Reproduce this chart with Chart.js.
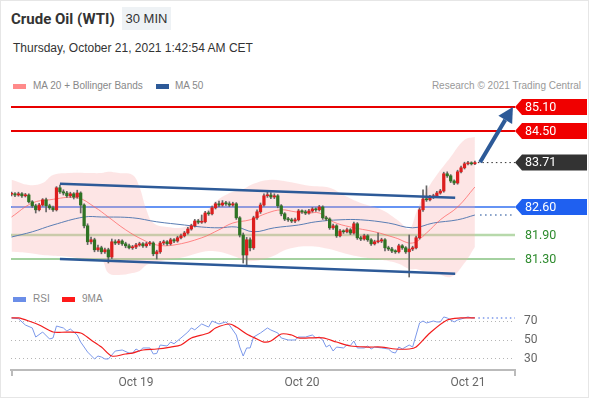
<!DOCTYPE html>
<html>
<head>
<meta charset="utf-8">
<script src="https://cdn.jsdelivr.net/npm/chart.js@4.4.0/dist/chart.umd.min.js"></script>
<style>
  body { margin: 0; background: #fff; font-family: "Liberation Sans", Arial, sans-serif; }
  #card { position: absolute; left: 0; top: 0; width: 587px; height: 396px; border: 1px solid #e6e6e6; }
  .t { position: absolute; white-space: nowrap; }
  .sw { position: absolute; width: 13px; height: 5px; }
  .lg { font-size: 10px; color: #888; }
  canvas { position: absolute; left: 0; }
</style>
</head>
<body>
<div id="card"></div>
<div class="t" style="left:11px;top:10px;font-family:Roboto,sans-serif;font-size:15px;font-weight:bold;color:#333">Crude Oil (WTI)</div>
<div class="t" style="left:122px;top:7px;width:49px;height:23px;line-height:23px;text-align:center;background:#eef2f5;font-size:13px;color:#333">30 MIN</div>
<div class="t" style="left:13px;top:41px;font-size:12px;color:#333">Thursday, October 21, 2021 1:42:54 AM CET</div>

<div class="sw" style="left:13px;top:84px;background:#ff8a8a"></div>
<div class="t lg" style="left:33px;top:80px">MA 20 + Bollinger Bands</div>
<div class="sw" style="left:156px;top:84px;background:#2d5a98"></div>
<div class="t lg" style="left:175px;top:80px">MA 50</div>
<div class="t lg" style="right:9px;top:80px;color:#999">Research © 2021 Trading Central</div>

<div class="sw" style="left:13px;top:297px;background:#6b8ee8"></div>
<div class="t lg" style="left:33px;top:293px">RSI</div>
<div class="sw" style="left:62px;top:297px;background:#ff1a1a"></div>
<div class="t lg" style="left:82px;top:293px">9MA</div>

<canvas id="main" width="590" height="200" style="top:92px"></canvas>
<canvas id="rsi" width="590" height="106" style="top:292px"></canvas>

<script>
// 30 min bars, index 0 = Oct 18 06:00, index 36 = Oct 19 00:00
const opens = [82.92,82.93,82.90,82.93,82.88,82.90,82.73,82.63,82.53,82.65, 82.78,82.63,82.58,82.53,83.08,82.98,82.95,82.88,82.93,82.85,
  82.95,82.65,82.13,81.73,81.78,81.53,81.58,81.48,81.53,81.35, 81.73,81.70,81.75,81.68,81.63,81.58,81.60,81.65,81.68,81.63,
  81.68,81.70,81.43,81.48,81.70,81.73,81.68,81.78,81.75,81.83, 81.88,81.95,82.05,82.13,82.25,82.22,82.23,82.45,82.43,82.58,
  82.68,82.65,82.70,82.68,82.65,82.68,82.33,81.90,81.40,81.78, 81.58,82.33,82.48,82.65,82.88,82.90,82.85,82.88,82.63,82.43,
  82.30,82.28,82.25,82.28,82.50,82.48,82.45,82.50,82.55,82.53, 82.60,82.33,82.30,82.08,82.13,81.88,82.00,81.98,82.03,81.95,
  82.18,81.83,81.80,81.88,81.78,81.68,81.73,81.75,81.78,81.58, 81.55,81.50,81.48,81.63,81.58,81.48,81.55,81.58,81.83,82.53,
  82.80,82.78,82.85,82.88,82.95,83.00,83.43,83.38,83.25,83.20, 83.48,83.58,83.68,83.70,83.68];
const closes = [82.93,82.90,82.93,82.88,82.90,82.73,82.63,82.53,82.65,82.78, 82.63,82.58,82.53,83.08,82.98,82.95,82.88,82.93,82.85,82.95,
  82.65,82.13,81.73,81.78,81.53,81.58,81.48,81.53,81.35,81.73, 81.70,81.75,81.68,81.63,81.58,81.60,81.65,81.68,81.63,81.68,
  81.70,81.43,81.48,81.70,81.73,81.68,81.78,81.75,81.83,81.88, 81.95,82.05,82.13,82.25,82.22,82.23,82.45,82.43,82.58,82.68,
  82.65,82.70,82.68,82.65,82.68,82.33,81.90,81.40,81.78,81.58, 82.33,82.48,82.65,82.88,82.90,82.85,82.88,82.63,82.43,82.30,
  82.28,82.25,82.28,82.50,82.48,82.45,82.50,82.55,82.53,82.60, 82.33,82.30,82.08,82.13,81.88,82.00,81.98,82.03,81.95,82.18,
  81.83,81.80,81.88,81.78,81.68,81.73,81.75,81.78,81.58,81.55, 81.50,81.48,81.63,81.58,81.48,81.55,81.58,81.83,82.53,82.80,
  82.78,82.85,82.88,82.95,83.00,83.43,83.38,83.25,83.20,83.48, 83.58,83.68,83.70,83.68,83.71];
const highs = [82.97,82.96,82.97,82.96,82.94,82.93,82.76,82.67,82.69,82.81, 82.82,82.67,82.62,83.11,83.15,83.03,82.99,82.97,82.96,83.02,
  82.98,82.68,82.18,81.85,81.82,81.65,81.62,81.57,81.57,81.80, 81.78,81.79,81.78,81.72,81.67,81.64,81.69,81.72,81.71,81.72,
  81.74,81.73,81.52,81.74,81.77,81.76,81.82,81.81,81.87,81.92, 81.99,82.09,82.17,82.29,82.29,82.40,82.49,82.50,82.62,82.72,
  82.75,82.76,82.74,82.73,82.72,82.71,82.36,81.95,81.84,81.83, 82.37,82.53,82.70,82.93,83.00,82.96,82.93,82.91,82.66,82.46,
  82.34,82.32,82.32,82.54,82.53,82.52,82.54,82.59,82.58,82.64, 82.63,82.37,82.33,82.17,82.16,82.04,82.03,82.07,82.06,82.22,
  82.21,81.87,81.92,81.91,81.81,81.77,81.95,81.82,81.81,81.62, 81.59,81.53,81.67,81.66,81.61,81.90,81.62,81.87,82.58,83.03,
  83.13,82.89,82.92,82.99,83.04,83.47,83.48,83.41,83.28,83.52, 83.62,83.72,83.74,83.73,83.75];
const lows = [82.88,82.86,82.87,82.84,82.85,82.70,82.59,82.45,82.50,82.62, 82.48,82.54,82.49,82.50,82.94,82.90,82.84,82.84,82.80,82.82,
  82.45,82.08,81.66,81.68,81.48,81.49,81.43,81.44,81.20,81.31, 81.66,81.66,81.64,81.58,81.55,81.54,81.56,81.62,81.59,81.59,
  81.64,81.38,81.30,81.44,81.66,81.64,81.65,81.71,81.72,81.80, 81.85,81.92,82.02,82.10,82.18,82.19,82.20,82.39,82.40,82.55,
  82.61,82.62,82.64,82.61,82.62,82.29,81.85,81.20,81.15,81.50, 81.54,82.29,82.44,82.62,82.84,82.81,82.81,82.58,82.38,82.26,
  82.24,82.21,82.21,82.25,82.44,82.41,82.42,82.47,82.49,82.50, 82.29,82.26,82.04,82.04,81.84,81.85,81.94,81.95,81.91,81.92,
  81.79,81.76,81.77,81.74,81.64,81.65,81.70,81.71,81.50,81.51, 81.46,81.44,81.45,81.54,81.44,80.85,81.51,81.55,81.80,82.49,
  82.74,82.75,82.81,82.85,82.92,82.97,83.34,83.21,83.16,83.17, 83.45,83.55,83.65,83.65,83.66];

// Bollinger bands (bar index / price)
const bandX = [0,5,9,12,17,22,26,28,31,35,37,39,41,45,50,54,57,60,64,67,70,75,80,86,92,96,101,107,112,115,117,119,122,127,131,134];
const bandUpper = [83.28,83.15,83.20,83.40,83.45,83.45,83.45,83.48,83.45,83.40,83.10,82.53,82.20,82.10,82.10,82.30,82.55,82.80,82.98,83.05,
  83.18,83.28,83.23,83.13,83.08,82.90,82.70,82.53,82.25,82.05,82.45,82.85,83.28,83.85,84.28,84.35];
const bandLower = [81.48,81.45,81.40,81.38,81.35,81.28,81.28,80.95,80.90,80.95,81.00,81.15,81.20,81.28,81.35,81.45,81.50,81.48,81.38,81.28,
  81.25,81.35,81.55,81.62,81.55,81.45,81.35,81.28,81.18,81.05,81.05,81.00,80.98,80.85,81.20,81.60];
const ma20X = [0,6,11,19,24,28,33,38,42,47,55,60,64,69,74,78,82,86,89,93,98,105,111,116,120,124,129,134];
const ma20 = [82.35,82.70,82.78,82.83,82.60,82.35,82.03,81.78,81.65,81.65,81.83,82.03,82.20,82.28,82.45,82.53,82.48,82.45,82.45,82.23,
  82.10,81.98,81.83,81.70,81.95,82.28,82.60,83.10];
const ma50X = [0,6,12,21,26,35,42,50,55,60,65,70,76,83,88,95,101,109,116,122,129,134];
const ma50 = [81.85,81.98,82.15,82.35,82.35,82.33,82.23,82.15,82.10,82.08,82.10,81.98,82.08,82.15,82.23,82.28,82.28,82.20,82.08,82.20,82.28,82.40];

// analyst drawings
const channelUpper = [[14, 83.18], [128.3, 82.83]];
const channelLower = [[14, 81.30], [128.3, 80.93]];
const arrowFrom = [135.5, 83.72];
const arrowTo = [145.0, 85.10];
const levelPrices = [85.10, 84.50, 83.71, 82.60, 81.90, 81.30];
const levelLabels = ['85.10', '84.50', '83.71', '82.60', '81.90', '81.30'];

// RSI panel
const rsiX = [0,2,4,6,7,9,11,12,13,15,16,17,19,20,22,24,25,26,27,28,30,32,34,35,36,37,38,40,41,42,43,45,46,47,49,51,52,53,55,57,58,60,62,63,65,66,67,68,69,70,
  72,74,75,77,78,80,82,83,85,87,88,89,90,91,92,93,94,96,97,98,99,100,102,103,104,105,107,109,110,111,112,113,115,116,117,118,119,120,122,123,124,125,126,128,129,131,132,133,134];
const rsi = [73.8,73.0,66.2,63.0,53.2,58.6,51.1,52.2,65.1,63.0,59.7,61.9,55.4,47.8,37.0,29.5,32.7,31.6,29.5,29.5,38.1,39.2,35.9,35.9,40.3,38.0,41.4,41.4,34.9,35.5,44.6,43.5,47.8,46.0,52.2,58.6,63.0,61.0,67.3,64.0,70.5,67.3,69.5,66.2,55.4,42.4,32.7,41.4,41.4,53.2,
  57.6,63.0,60.8,57.6,52.2,50.0,50.0,53.2,53.2,55.4,52.2,53.2,50.0,42.4,44.6,38.1,42.4,41.4,44.6,44.0,48.9,41.4,41.4,43.5,40.3,42.4,41.4,40.3,37.0,35.9,42.4,40.3,44.6,42.4,55.4,68.4,70.5,68.4,70.5,69.5,69.5,74.9,73.8,69.5,71.6,73.8,74.9,73.8,73.8];
const rsiMaX = [0,2,5,8,12,16,20,23,26,29,33,35,38,42,46,49,52,57,59,63,65,68,71,73,75,78,81,83,86,90,94,98,103,107,111,115,117,121,126,130,134];
const rsiMa = [73.8,73.8,70.5,66.2,58.6,58.6,57.6,50.0,42.4,32.7,34.9,35.9,39.2,40.3,42.4,44.6,52.2,57.6,63.0,67.3,64.0,56.5,51.1,47.8,48.9,56.5,55.4,52.2,52.2,52.2,47.8,43.5,42.4,42.4,40.3,40.3,42.4,57.6,71.6,73.8,73.8];
const rsiTicks = [30, 50, 70];
const dayTicks = [36, 84, 132];
const dayLabels = ['Oct 19', 'Oct 20', 'Oct 21'];

// ---- styles / layout ----
const X_MIN = -0.15, X_MAX = 145.6;
const UP = '#dc1e1e', DOWN = '#2f7324', TREND = '#2d5a98';
const levelStyle = [
  { line: '#e80000', w: 2, tag: '#f00000', text: '#fff' },
  { line: '#e80000', w: 2, tag: '#f00000', text: '#fff' },
  { line: '#333', w: 1, dash: true, tag: '#333', text: '#fff' },
  { line: '#3370f0', w: 1.5, tag: '#1f60f0', text: '#fff' },
  { line: '#b7d9ab', w: 2.5, text: '#2e8b2e' },
  { line: '#86c280', w: 1.5, text: '#2e8b2e' }
];
const FONT = 'Roboto, "Liberation Sans", Arial, sans-serif';
const last = closes.length - 1;
const pts = (xs, ys) => xs.map((x, k) => ({ x: x, y: ys[k] }));

const levelPlugin = {
  id: 'levels',
  beforeDatasetsDraw(chart) {
    const { ctx, chartArea: a, scales: { x, y } } = chart;
    levelPrices.forEach((p, k) => {
      const s = levelStyle[k];
      const py = y.getPixelForValue(p);
      ctx.save();
      ctx.strokeStyle = s.line;
      ctx.lineWidth = s.w;
      let x0 = a.left;
      if (s.dash) { ctx.setLineDash([1.5, 3]); x0 = x.getPixelForValue(last) + 3; }
      ctx.beginPath(); ctx.moveTo(x0, py); ctx.lineTo(a.right, py); ctx.stroke();
      ctx.restore();
    });
  },
  afterDatasetsDraw(chart) {
    const { ctx, scales: { x, y } } = chart;
    // arrow
    const x1 = x.getPixelForValue(arrowFrom[0]), y1 = y.getPixelForValue(arrowFrom[1]);
    const x2 = x.getPixelForValue(arrowTo[0]), y2 = y.getPixelForValue(arrowTo[1]);
    const ang = Math.atan2(y2 - y1, x2 - x1), hl = 15, hw = 8;
    const bx = x2 - hl * Math.cos(ang), by = y2 - hl * Math.sin(ang);
    ctx.save();
    ctx.strokeStyle = TREND; ctx.fillStyle = TREND; ctx.lineWidth = 4;
    ctx.beginPath(); ctx.moveTo(x1, y1); ctx.lineTo(bx, by); ctx.stroke();
    ctx.beginPath(); ctx.moveTo(x2, y2);
    ctx.lineTo(bx + hw * Math.sin(ang), by - hw * Math.cos(ang));
    ctx.lineTo(bx - hw * Math.sin(ang), by + hw * Math.cos(ang));
    ctx.closePath(); ctx.fill();
    ctx.restore();
  },
  afterDraw(chart) {
    const { ctx, chartArea: a, scales: { y } } = chart;
    levelPrices.forEach((p, k) => {
      const s = levelStyle[k];
      const py = y.getPixelForValue(p);
      ctx.save();
      if (s.tag) {
        ctx.fillStyle = s.tag;
        ctx.beginPath();
        ctx.moveTo(a.right, py); ctx.lineTo(a.right + 7, py - 8); ctx.lineTo(587, py - 8);
        ctx.lineTo(587, py + 8); ctx.lineTo(a.right + 7, py + 8); ctx.closePath(); ctx.fill();
      }
      ctx.fillStyle = s.text;
      ctx.font = '12.5px ' + FONT;
      ctx.textBaseline = 'middle';
      ctx.fillText(levelLabels[k], a.right + 10, py + 0.5);
      ctx.restore();
    });
  }
};

new Chart(document.getElementById('main'), {
  type: 'line',
  data: {
    datasets: [
      { data: pts(bandX, bandUpper), borderWidth: 0, pointRadius: 0, tension: 0.4, fill: '+1',
        backgroundColor: 'rgba(250,170,170,0.30)', order: 10 },
      { data: pts(bandX, bandLower), borderWidth: 0, pointRadius: 0, tension: 0.4, fill: false, order: 10 },
      { data: pts(ma20X, ma20), borderColor: 'rgba(255,100,100,0.75)', borderWidth: 1, pointRadius: 0, tension: 0.4, order: 8 },
      { data: pts(ma50X, ma50), borderColor: '#5a7db3', borderWidth: 1, pointRadius: 0, tension: 0.4, order: 8 },
      { data: [{ x: ma50X[ma50X.length - 1] + 1.5, y: ma50[ma50.length - 1] }, { x: X_MAX, y: ma50[ma50.length - 1] }],
        borderColor: '#5a7db3', borderWidth: 1.5, borderDash: [1.5, 3.5], pointRadius: 0, order: 8 },
      { type: 'bar', data: closes.map((c, i) => ({ x: i, y: [lows[i], highs[i]] })), barThickness: 1,
        backgroundColor: '#666', grouped: false, order: 6 },
      { type: 'bar', data: closes.map((c, i) => ({ x: i, y: [opens[i], c] })), barThickness: 2.6, minBarLength: 1,
        backgroundColor: ctx => closes[ctx.dataIndex] >= opens[ctx.dataIndex] ? UP : DOWN, grouped: false, order: 5 },
      { data: channelUpper.map(p => ({ x: p[0], y: p[1] })), borderColor: TREND, borderWidth: 2.5, pointRadius: 0, order: 1 },
      { data: channelLower.map(p => ({ x: p[0], y: p[1] })), borderColor: TREND, borderWidth: 2.5, pointRadius: 0, order: 1 }
    ]
  },
  options: {
    responsive: false, animation: false, devicePixelRatio: 1,
    layout: { padding: { left: 11, right: 75, top: 3, bottom: 2 } },
    plugins: { legend: { display: false }, tooltip: { enabled: false } },
    scales: {
      x: { type: 'linear', min: X_MIN, max: X_MAX, offset: false, display: false },
      y: { min: 80.525, max: 85.40, display: false }
    }
  },
  plugins: [levelPlugin]
});

const endTicks = {
  id: 'endTicks',
  afterDraw(chart) {
    const { ctx, chartArea: a } = chart;
    ctx.save();
    ctx.strokeStyle = '#bbb'; ctx.lineWidth = 2;
    ctx.beginPath();
    ctx.moveTo(a.left + 1, a.bottom); ctx.lineTo(a.left + 1, a.bottom + 6);
    ctx.moveTo(a.right, a.bottom); ctx.lineTo(a.right, a.bottom + 6);
    ctx.stroke();
    ctx.restore();
  }
};

new Chart(document.getElementById('rsi'), {
  type: 'line',
  data: {
    datasets: [
      { data: pts(rsiMaX, rsiMa), borderColor: '#f21c1c', borderWidth: 1.2, pointRadius: 0, tension: 0.3 },
      { data: pts(rsiX, rsi), borderColor: '#7b98ea', borderWidth: 1, pointRadius: 0, tension: 0 },
      { data: [{ x: rsiX[rsiX.length - 1] + 1, y: rsi[rsi.length - 1] }, { x: X_MAX, y: rsi[rsi.length - 1] }],
        borderColor: '#7b98ea', borderWidth: 1.5, borderDash: [1.5, 3], pointRadius: 0 }
    ]
  },
  options: {
    responsive: false, animation: false, devicePixelRatio: 1,
    layout: { padding: { left: 11, right: 0, top: 18, bottom: 0 } },
    plugins: { legend: { display: false }, tooltip: { enabled: false } },
    scales: {
      x: {
        type: 'linear', min: X_MIN, max: X_MAX, offset: false,
        afterBuildTicks: s => { s.ticks = dayTicks.map(v => ({ value: v })); },
        afterFit: s => { s.height = 28; },
        ticks: { autoSkip: false, maxRotation: 0, padding: 6, color: '#666', font: { family: FONT, size: 12 },
          callback: v => dayLabels[dayTicks.indexOf(v)] },
        grid: { display: false, drawTicks: false, tickLength: 0 },
        border: { display: true, color: '#bbb', width: 2 }
      },
      y: {
        position: 'right', min: 17.6, max: 82.4,
        afterBuildTicks: s => { s.ticks = rsiTicks.map(v => ({ value: v })); },
        afterFit: s => { s.width = 75; },
        ticks: { padding: 9, color: '#666', font: { family: FONT, size: 12 } },
        grid: { color: '#b5b5b5', drawTicks: false, tickLength: 0 },
        border: { display: false, dash: [1, 3] }
      }
    }
  },
  plugins: [endTicks]
});
</script>
</body>
</html>
